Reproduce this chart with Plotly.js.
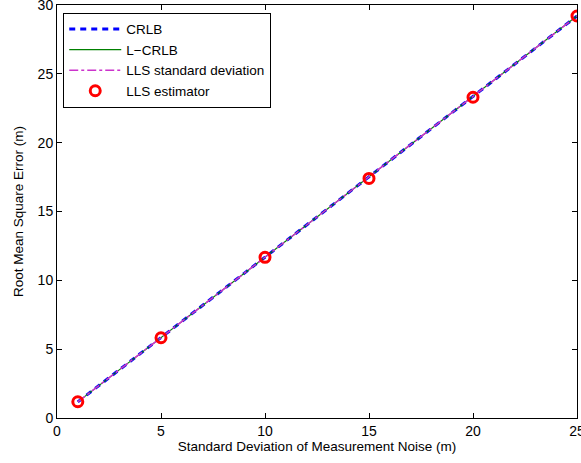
<!DOCTYPE html>
<html><head><meta charset="utf-8">
<script src="https://cdn.plot.ly/plotly-3.0.1.min.js"></script>
<style>body{margin:0;background:#fff}#c{width:581px;height:463px}</style>
</head><body><div id="c"></div>
<script>
var noise = [1, 5, 10, 15, 20, 25];
var crlb = [1.17, 5.84, 11.68, 17.52, 23.36, 29.2];
var lcrlb = [1.17, 5.84, 11.68, 17.52, 23.36, 29.2];
var llsStd = [1.17, 5.84, 11.68, 17.52, 23.36, 29.2];
var llsEst = [1.18, 5.83, 11.67, 17.4, 23.3, 29.2];
var xTicks = [0, 5, 10, 15, 20, 25];
var yTicks = [0, 5, 10, 15, 20, 25, 30];

var traces = [
  {x: noise, y: crlb, name: 'CRLB', mode: 'lines', line: {color: '#0000ff', width: 3, dash: '6px,5px'}},
  {x: noise, y: lcrlb, name: 'L\u2212CRLB', mode: 'lines', line: {color: '#008000', width: 1.2}},
  {x: noise, y: llsStd, name: 'LLS standard deviation', mode: 'lines', line: {color: '#cc33cc', width: 1.5, dash: 'dashdot'}},
  {x: noise, y: llsEst, name: 'LLS estimator', mode: 'markers', marker: {symbol: 'circle-open', color: '#ff0000', size: 10, line: {width: 3, color: '#ff0000'}}}
];
var ax = {
  showgrid: false, zeroline: false, showline: true, mirror: 'ticks', linecolor: '#000', linewidth: 1,
  ticks: 'inside', ticklen: 5, tickcolor: '#000', ticklabeloverflow: 'allow',
  tickfont: {family: 'Liberation Sans, Arial', size: 14, color: '#000'}
};
var layout = {
  width: 581, height: 463,
  margin: {l: 57, r: 4, t: 5, b: 45},
  paper_bgcolor: '#fff', plot_bgcolor: '#fff',
  font: {family: 'Liberation Sans, Arial', color: '#000'},
  xaxis: Object.assign({}, ax, {range: [0, 25], tickvals: xTicks, ticktext: xTicks.map(String),
    title: {text: 'Standard Deviation of Measurement Noise (m)', font: {size: 13.5}, standoff: 2}}),
  yaxis: Object.assign({}, ax, {range: [0, 30], tickvals: yTicks, ticktext: yTicks.map(String),
    title: {text: 'Root Mean Square Error (m)', font: {size: 13.5}, standoff: 10}}),
  showlegend: true,
  legend: {x: 0.012, y: 0.981, xanchor: 'left', yanchor: 'top', bgcolor: '#fff', bordercolor: '#000', borderwidth: 1,
    font: {size: 13.5, family: 'Liberation Sans, Arial'}, tracegroupgap: 0, itemwidth: 52}
};
Plotly.newPlot('c', traces, layout, {displayModeBar: false, staticPlot: true});
</script></body></html>
